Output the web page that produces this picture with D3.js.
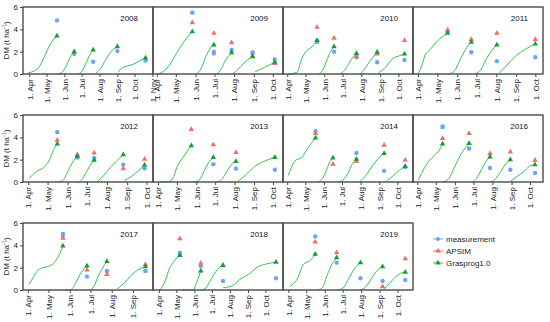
<!DOCTYPE html>
<html>
<head>
<meta charset="utf-8">
<script src="https://cdn.jsdelivr.net/npm/d3@7"></script>
<style>
  body { margin: 0; background: #fff; }
  text { font-family: "Liberation Sans", Arial, sans-serif; }
</style>
</head>
<body>
<svg width="550" height="322"></svg>
<script>
// years shown, one panel each
var years = [2008, 2009, 2010, 2011, 2012, 2013, 2014, 2016, 2017, 2018, 2019];
// date range of each panel's x axis (MM-DD)
var xDomains = [
  ["03-21", "11-02"], ["03-26", "10-17"], ["03-25", "10-25"], ["03-24", "10-13"],
  ["03-24", "10-11"], ["03-24", "10-17"], ["03-25", "10-27"], ["03-25", "10-22"],
  ["03-25", "09-30"], ["03-22", "10-31"], ["03-23", "10-27"]
];
var yTicks = [0, 2, 4, 6];
var seriesNames = ["measurement", "APSIM", "Grasprog1.0"];

// Grasprog1.0 regrowth curves: one array per cut, [date, DM]
var grasprog2008 = [
  [["03-30", 0.1], ["04-16", 0.5], ["04-23", 1.1], ["05-02", 2.1], ["05-10", 2.9], ["05-19", 3.4]],
  [["05-21", 0], ["05-28", 0.15], ["06-04", 0.7], ["06-11", 1.5], ["06-18", 2.0]],
  [["06-25", 0], ["07-01", 0.2], ["07-08", 0.9], ["07-15", 1.7], ["07-21", 2.15]],
  [["07-25", 0.05], ["08-03", 0.5], ["08-12", 1.3], ["08-21", 2.0], ["09-01", 2.45]],
  [["09-03", 0.2], ["09-08", 0.5], ["09-30", 0.9], ["10-10", 1.2], ["10-20", 1.45]]
];
var measured2008 = [["05-19", 4.8], ["06-18", 1.8], ["07-21", 1.1], ["09-01", 2.05], ["10-20", 1.2]];
var apsim2008 = [];

var grasprog2009 = [
  [["04-03", 0], ["04-13", 0.3], ["04-21", 0.8], ["05-02", 1.85], ["05-12", 2.75], ["05-27", 3.8]],
  [["06-03", 0], ["06-10", 0.5], ["06-17", 1.5], ["06-24", 2.3], ["06-30", 2.6]],
  [["07-05", 0], ["07-11", 0.4], ["07-17", 1.1], ["07-23", 1.6], ["07-28", 1.9]],
  [["07-30", 0], ["08-07", 0.4], ["08-15", 0.9], ["08-23", 1.3], ["08-30", 1.55]],
  [["09-03", 0.2], ["09-18", 0.6], ["10-04", 1.05]]
];
var measured2009 = [["05-27", 5.5, 0.1], ["06-30", 1.9, 0.2], ["07-28", 2.15], ["08-30", 1.9, 0.15], ["10-04", 1.3]];
var apsim2009 = [["05-27", 4.6], ["06-30", 3.65], ["07-28", 2.8], ["08-30", 1.6], ["10-04", 0.95]];

var grasprog2010 = [
  [["04-03", 0], ["04-17", 0.15], ["04-25", 1.4], ["05-03", 2.1], ["05-12", 2.45], ["05-20", 3.0]],
  [["05-22", 0], ["05-29", 0.3], ["06-05", 1.2], ["06-11", 2.0], ["06-17", 2.45]],
  [["06-27", 0], ["07-04", 0.3], ["07-11", 0.9], ["07-18", 1.5], ["07-24", 1.85]],
  [["07-30", 0], ["08-06", 0.4], ["08-13", 1.0], ["08-20", 1.5], ["08-27", 1.95]],
  [["08-29", 0.1], ["09-08", 0.5], ["09-22", 1.4], ["10-01", 1.6], ["10-11", 1.8]]
];
var measured2010 = [["05-20", 2.9, 0.15], ["06-17", 2.0], ["07-24", 1.5], ["08-27", 1.05], ["10-11", 1.25]];
var apsim2010 = [["05-20", 4.2], ["06-17", 3.2], ["07-24", 1.55], ["08-27", 1.8], ["10-11", 3.0]];

var grasprog2011 = [
  [["04-01", 0], ["04-07", 0.8], ["04-12", 1.7], ["04-20", 2.2], ["04-30", 2.9], ["05-17", 3.65]],
  [["05-19", 0], ["05-28", 0.3], ["06-05", 1.2], ["06-14", 2.2], ["06-23", 2.85]],
  [["06-29", 0], ["07-08", 0.4], ["07-17", 1.4], ["07-25", 2.1], ["08-02", 2.6]],
  [["08-06", 0.1], ["08-18", 0.8], ["08-31", 1.6], ["09-15", 2.2], ["10-01", 2.7]]
];
var measured2011 = [["05-17", 3.8], ["06-23", 1.95], ["08-02", 1.15], ["10-01", 1.5]];
var apsim2011 = [["05-17", 3.95], ["06-23", 3.1], ["08-02", 3.65], ["10-01", 3.1]];

var grasprog2012 = [
  [["04-03", 0.35], ["04-14", 0.95], ["04-25", 1.3], ["05-04", 2.0], ["05-10", 2.85], ["05-16", 3.4]],
  [["05-17", 0], ["05-24", 0.1], ["05-31", 0.8], ["06-08", 1.7], ["06-16", 2.3]],
  [["06-18", 0], ["06-24", 0.3], ["07-01", 1.0], ["07-07", 1.6], ["07-12", 1.95]],
  [["07-17", 0.05], ["07-27", 0.6], ["08-06", 1.3], ["08-16", 1.9], ["08-26", 2.45]],
  [["08-28", 0.15], ["09-08", 0.5], ["09-18", 1.0], ["09-28", 1.5]]
];
var measured2012 = [["05-16", 4.45], ["06-16", 2.2], ["07-12", 2.15], ["08-26", 1.55], ["09-28", 1.2]];
var apsim2012 = [["05-16", 3.75], ["06-16", 2.45], ["07-12", 2.6], ["08-26", 1.2], ["09-28", 2.05]];

var grasprog2013 = [
  [["04-04", 0], ["04-20", 0.05], ["04-26", 0.5], ["05-01", 1.3], ["05-12", 2.3], ["05-24", 3.25]],
  [["05-27", 0], ["06-04", 0.1], ["06-12", 0.8], ["06-20", 1.7], ["06-28", 2.2]],
  [["07-04", 0], ["07-11", 0.2], ["07-18", 0.8], ["07-26", 1.5], ["08-03", 1.85]],
  [["08-06", 0.05], ["08-18", 0.6], ["08-31", 1.3], ["09-15", 1.8], ["10-04", 2.2]]
];
var measured2013 = [["06-28", 1.6], ["08-03", 1.2], ["10-04", 1.1]];
var apsim2013 = [["05-24", 4.7], ["06-28", 3.35], ["08-03", 2.65], ["10-04", 2.2]];

var grasprog2014 = [
  [["04-03", 0.6], ["04-14", 1.9], ["04-25", 2.2], ["05-06", 3.1], ["05-18", 3.95]],
  [["05-21", 0], ["05-28", 0.2], ["06-04", 0.9], ["06-10", 1.7], ["06-16", 2.15]],
  [["06-25", 0], ["07-03", 0.2], ["07-11", 0.8], ["07-18", 1.6], ["07-25", 2.05]],
  [["07-31", 0.05], ["08-10", 0.6], ["08-20", 1.4], ["08-30", 2.1], ["09-09", 2.55]],
  [["09-13", 0.1], ["09-23", 0.5], ["10-03", 1.0], ["10-14", 1.4]]
];
var measured2014 = [["05-18", 4.55], ["07-25", 2.6], ["09-09", 1.0], ["10-14", 1.35]];
var apsim2014 = [["05-18", 4.35], ["06-16", 1.6], ["07-25", 1.85], ["09-09", 3.3], ["10-14", 1.95]];

var grasprog2016 = [
  [["04-03", 0.2], ["04-13", 1.3], ["04-21", 1.95], ["04-29", 2.4], ["05-06", 2.8], ["05-12", 3.4]],
  [["05-13", 0], ["05-22", 0.3], ["06-01", 1.4], ["06-10", 2.4], ["06-17", 3.0], ["06-24", 3.45]],
  [["06-29", 0], ["07-06", 0.3], ["07-14", 1.1], ["07-21", 1.8], ["07-28", 2.25]],
  [["07-30", 0], ["08-06", 0.3], ["08-14", 0.9], ["08-22", 1.6], ["08-30", 2.0]],
  [["08-31", 0.1], ["09-10", 0.5], ["09-20", 0.9], ["09-30", 1.4], ["10-09", 1.55]]
];
var measured2016 = [["05-12", 4.95, 0.15], ["06-24", 3.0], ["07-28", 1.25], ["08-30", 1.1], ["10-09", 0.8]];
var apsim2016 = [["05-12", 3.9], ["06-24", 4.35], ["07-28", 2.55], ["08-30", 2.7], ["10-09", 1.95]];

var grasprog2017 = [
  [["04-03", 0.5], ["04-09", 1.15], ["04-16", 1.8], ["04-23", 2.0], ["05-01", 2.1], ["05-08", 2.35], ["05-15", 2.95], ["05-22", 3.95]],
  [["05-25", 0], ["06-03", 0.05], ["06-10", 0.7], ["06-18", 1.6], ["06-26", 2.15]],
  [["06-30", 0], ["07-06", 0.3], ["07-12", 1.2], ["07-19", 2.0], ["07-25", 2.55]],
  [["08-09", 0.1], ["08-19", 0.6], ["08-29", 1.3], ["09-08", 1.8], ["09-19", 2.1]]
];
var measured2017 = [["05-22", 4.95, 0.2], ["06-26", 1.2], ["07-25", 1.7, 0.1], ["09-19", 1.7, 0.1]];
var apsim2017 = [["05-22", 4.65], ["06-26", 1.8], ["07-25", 1.4], ["09-19", 2.3]];

var grasprog2018 = [
  [["04-03", 0], ["04-12", 0.8], ["04-19", 1.9], ["04-26", 2.5], ["05-07", 3.1]],
  [["05-11", 0], ["05-30", 0], ["06-05", 0.7], ["06-12", 1.7]],
  [["06-13", 0], ["06-21", 0.2], ["06-30", 1.0], ["07-10", 1.8], ["07-20", 2.2]],
  [["07-20", 0.2], ["08-06", 0.4], ["08-18", 0.95], ["09-02", 1.4], ["09-17", 2.05], ["10-04", 2.35], ["10-19", 2.5]]
];
var measured2018 = [["05-07", 3.3, 0.15], ["06-12", 2.15], ["07-20", 0.8], ["10-19", 1.05]];
var apsim2018 = [["05-07", 4.6], ["06-12", 2.4], ["07-20", 2.2]];

var grasprog2019 = [
  [["04-03", 0.3], ["04-16", 1.0], ["04-27", 2.35], ["05-08", 2.65], ["05-16", 3.2]],
  [["05-21", 0], ["05-28", 0.2], ["06-05", 1.3], ["06-13", 2.3], ["06-21", 2.9]],
  [["06-22", 0], ["07-02", 0.2], ["07-12", 1.1], ["07-22", 2.0], ["07-31", 2.45]],
  [["07-31", 0], ["08-09", 0.3], ["08-18", 1.0], ["08-27", 1.7], ["09-06", 2.1]],
  [["09-08", 0.05], ["09-18", 0.6], ["09-28", 1.2], ["10-06", 1.5], ["10-14", 1.6]]
];
var measured2019 = [["05-16", 4.8], ["06-21", 2.45], ["07-31", 1.05], ["09-06", 0.8], ["10-14", 0.9]];
var apsim2019 = [["05-16", 4.3], ["06-21", 3.35], ["09-06", 0.3], ["10-14", 2.8]];

var grasprogAll = [grasprog2008, grasprog2009, grasprog2010, grasprog2011, grasprog2012, grasprog2013,
                   grasprog2014, grasprog2016, grasprog2017, grasprog2018, grasprog2019];
var measuredAll = [measured2008, measured2009, measured2010, measured2011, measured2012, measured2013,
                   measured2014, measured2016, measured2017, measured2018, measured2019];
var apsimAll = [apsim2008, apsim2009, apsim2010, apsim2011, apsim2012, apsim2013,
                apsim2014, apsim2016, apsim2017, apsim2018, apsim2019];

var svg = d3.select("svg");
var rowTops = [7, 115, 223], colLefts = [23, 153, 283, 413];
var panelW = 130, panelH = 67;
var colMeas = "#6aa6f8", colApsim = "#f26d6d", colGrass = "#35c450", colGrassMark = "#14a030";
var parseDate = d3.timeParse("%Y-%m-%d");
var fmt = d3.timeFormat("%-d. %b");
var tri = d3.symbol().type(d3.symbolTriangle).size(13);

years.forEach(function(yr, i) {
  var r = Math.floor(i / 4), c = i % 4;
  var day = function(s) { return parseDate(yr + "-" + s); };

  var x = d3.scaleTime().domain(xDomains[i].map(day)).range([0, panelW]);
  var y = d3.scaleLinear().domain([0, 6]).range([panelH, 0]);

  var g = svg.append("g")
      .attr("transform", "translate(" + colLefts[c] + "," + rowTops[r] + ")");

  // x axis with rotated month labels
  var xa = g.append("g")
      .attr("transform", "translate(0," + panelH + ")")
      .call(d3.axisBottom(x).ticks(d3.timeMonth.every(1)).tickFormat(fmt).tickSize(3));
  xa.select(".domain").remove();
  xa.selectAll("line").attr("stroke", "#444");
  xa.selectAll("text")
      .attr("transform", "rotate(-90)")
      .attr("x", -5).attr("y", 0).attr("dy", "0.35em")
      .style("text-anchor", "end")
      .style("font-size", "8px")
      .attr("fill", "#222");

  if (c == 0) {
    var ya = g.append("g")
        .call(d3.axisLeft(y).tickValues(yTicks).tickFormat(d3.format("d")).tickSize(3).tickPadding(2));
    ya.select(".domain").remove();
    ya.selectAll("line").attr("stroke", "#444");
    ya.selectAll("text").style("font-size", "8px").attr("fill", "#222");

    var lab = svg.append("text")
        .attr("transform", "translate(9," + (rowTops[r] + panelH / 2) + ") rotate(-90)")
        .attr("text-anchor", "middle")
        .style("font-size", "8px")
        .attr("fill", "#222");
    lab.append("tspan").text("DM (t ha");
    lab.append("tspan").attr("dy", "-3").style("font-size", "5.5px").text("-1");
    lab.append("tspan").attr("dy", "3").text(")");
  }

  // measurements with error bars
  var meas = measuredAll[i];
  meas.forEach(function(d) {
    if (d[2]) {
      var mx = x(day(d[0]));
      g.append("path")
          .attr("d", "M" + (mx - 2) + "," + y(d[1] + d[2]) + "H" + (mx + 2) +
                     "M" + mx + "," + y(d[1] + d[2]) + "V" + y(d[1] - d[2]) +
                     "M" + (mx - 2) + "," + y(d[1] - d[2]) + "H" + (mx + 2))
          .attr("stroke", colMeas).attr("fill", "none").attr("stroke-width", 1);
    }
  });
  g.selectAll(".meas").data(meas).enter().append("circle")
      .attr("cx", function(d) { return x(day(d[0])); })
      .attr("cy", function(d) { return y(d[1]); })
      .attr("r", 2.2)
      .attr("fill", colMeas);

  // APSIM
  g.selectAll(".apsim").data(apsimAll[i]).enter().append("path")
      .attr("d", tri)
      .attr("transform", function(d) { return "translate(" + x(day(d[0])) + "," + y(d[1]) + ")"; })
      .attr("fill", colApsim);

  // Grasprog curves
  var line = d3.line()
      .x(function(d) { return x(day(d[0])); })
      .y(function(d) { return y(d[1]); })
      .curve(d3.curveMonotoneX);
  grasprogAll[i].forEach(function(seg) {
    g.append("path")
        .datum(seg)
        .attr("d", line)
        .attr("fill", "none")
        .attr("stroke", colGrass)
        .attr("stroke-width", 1);
    var last = seg[seg.length - 1];
    g.append("path")
        .attr("d", tri)
        .attr("transform", "translate(" + x(day(last[0])) + "," + y(last[1]) + ")")
        .attr("fill", colGrassMark);
  });

  // panel frame
  g.append("rect")
      .attr("width", panelW).attr("height", panelH)
      .attr("fill", "none").attr("stroke", "#4a4a4a").attr("stroke-width", 1.4);

  g.append("text")
      .attr("x", panelW - 15).attr("y", 14)
      .attr("text-anchor", "end")
      .style("font-size", "8px")
      .attr("fill", "#111")
      .text(yr);
});

// legend
var legend = svg.append("g").attr("transform", "translate(433,239)");
var legColors = [colMeas, colApsim, colGrass];
seriesNames.forEach(function(name, k) {
  var row = legend.append("g").attr("transform", "translate(0," + (k * 12) + ")");
  row.append("line").attr("x1", 0).attr("x2", 10).attr("stroke", legColors[k]).attr("stroke-width", 1);
  if (k == 0) row.append("circle").attr("cx", 5).attr("r", 2).attr("fill", colMeas);
  else row.append("path").attr("d", tri).attr("transform", "translate(5,0)")
          .attr("fill", k == 1 ? colApsim : colGrassMark);
  row.append("text").attr("x", 13).attr("dy", "0.35em")
      .style("font-size", "8px").attr("fill", "#222").text(name);
});
</script>
</body>
</html>
